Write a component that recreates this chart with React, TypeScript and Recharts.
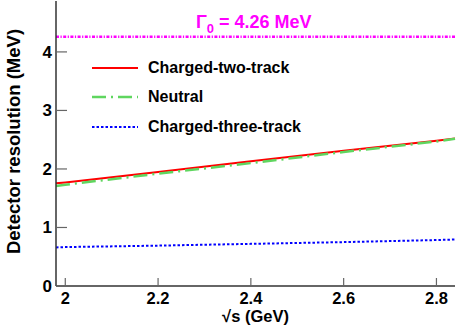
import { LineChart, Line, XAxis, YAxis, ReferenceLine, Legend, Label } from 'recharts';

// sqrt(s) in GeV
const energies = [1.98, 2.0, 2.2, 2.4, 2.6, 2.8, 2.84];
const chargedTwoTrack = [1.755, 1.77, 1.95, 2.13, 2.31, 2.48, 2.52];
const neutral = [1.71, 1.73, 1.92, 2.1, 2.29, 2.47, 2.515];
const chargedThreeTrack = [0.66, 0.665, 0.69, 0.72, 0.75, 0.785, 0.795];
const gamma0 = 4.26;

const xTicks = [2, 2.2, 2.4, 2.6, 2.8];
const yTicks = [0, 1, 2, 3, 4];

const series = [
  { key: 'two', name: 'Charged-two-track', values: chargedTwoTrack, color: '#ff0000', dash: undefined, width: 2 },
  { key: 'neu', name: 'Neutral', values: neutral, color: '#5fd65f', dash: '14 5 2 5', width: 2.5 },
  { key: 'three', name: 'Charged-three-track', values: chargedThreeTrack, color: '#0000ff', dash: '2.5 2', width: 2 },
];

const data = energies.map((e, i) => {
  const row: Record<string, number> = { e };
  series.forEach((s) => (row[s.key] = s.values[i]));
  return row;
});

const FONT = '"Liberation Sans", Arial, Helvetica, sans-serif';
const FRAME = '#333';
const TICK = '#666';

const BottomTick = (p: any) => (
  <g>
    <line x1={p.x} y1={p.y} x2={p.x} y2={p.y - 8} stroke={TICK} strokeWidth={1.2} />
    <text x={p.x} y={p.y + 17.5} textAnchor="middle" fontFamily={FONT} fontWeight="bold" fontSize={16.5} fill="#000">
      {p.payload.value}
    </text>
  </g>
);

const TopTick = (p: any) => (
  <line x1={p.x} y1={p.y} x2={p.x} y2={p.y + 8} stroke={TICK} strokeWidth={1.2} />
);

const LeftTick = (p: any) => (
  <g>
    <line x1={p.x} y1={p.y} x2={p.x + 11} y2={p.y} stroke={TICK} strokeWidth={1.2} />
    <text x={p.x - 4} y={p.y + 6} textAnchor="end" fontFamily={FONT} fontWeight="bold" fontSize={17} fill="#000">
      {p.payload.value}
    </text>
  </g>
);

const RightTick = (p: any) => (
  <line x1={p.x} y1={p.y} x2={p.x - 11} y2={p.y} stroke={TICK} strokeWidth={1.2} />
);

const renderLegend = () => (
  <div style={{ fontFamily: FONT, fontWeight: 'bold', fontSize: 16 }}>
    {series.map((s) => (
      <div key={s.key} style={{ display: 'flex', alignItems: 'center', height: 29.5 }}>
        <svg width={46} height={6} style={{ marginRight: 10 }}>
          <line x1={0} y1={3} x2={46} y2={3} stroke={s.color} strokeWidth={s.width} strokeDasharray={s.dash} />
        </svg>
        <span>{s.name}</span>
      </div>
    ))}
  </div>
);

const GammaLabel = (p: any) => {
  const vb = p.viewBox;
  return (
    <text x={vb.x + 140} y={vb.y - 9} fontFamily={FONT} fontWeight="bold" fontSize={18} fill="#ff00ff">
      Γ
      <tspan dy={5} fontSize={13}>0</tspan>
      <tspan dy={-5}> = 4.26 MeV</tspan>
    </text>
  );
};

export default function App() {
  return (
    <div style={{ position: 'absolute', left: 0, top: 0, background: '#fff' }}>
      <LineChart width={457} height={326} data={data} margin={{ top: 1, right: 2, left: 0, bottom: 0 }}>
        <XAxis
          xAxisId="b"
          type="number"
          dataKey="e"
          domain={[1.98, 2.84]}
          ticks={xTicks}
          interval={0}
          height={40}
          tickLine={false}
          tickSize={0}
          tickMargin={0}
          tick={BottomTick}
          axisLine={{ stroke: FRAME, strokeWidth: 1.5 }}
        >
          <Label
            content={(p: any) => (
              <text
                x={p.viewBox.x + p.viewBox.width / 2}
                y={p.viewBox.y + 36}
                textAnchor="middle"
                fontFamily={FONT}
                fontWeight="bold"
                fontSize={16.5}
                fill="#000"
              >
                √s (GeV)
              </text>
            )}
          />
        </XAxis>
        <XAxis
          xAxisId="t"
          orientation="top"
          type="number"
          dataKey="e"
          domain={[1.98, 2.84]}
          ticks={xTicks}
          interval={0}
          height={0}
          tickLine={false}
          tickSize={0}
          tickMargin={0}
          tick={TopTick}
          axisLine={{ stroke: FRAME, strokeWidth: 1.5 }}
        />
        <YAxis
          yAxisId="l"
          type="number"
          domain={[0, 4.87]}
          ticks={yTicks}
          interval={0}
          width={56}
          tickLine={false}
          tickSize={0}
          tickMargin={0}
          tick={LeftTick}
          axisLine={{ stroke: FRAME, strokeWidth: 1.5 }}
        >
          <Label
            content={(p: any) => {
              const cx = 13;
              const cy = p.viewBox.y + p.viewBox.height / 2 - 2;
              return (
                <text
                  x={cx}
                  y={cy}
                  transform={`rotate(-90 ${cx} ${cy})`}
                  textAnchor="middle"
                  dominantBaseline="central"
                  fontFamily={FONT}
                  fontWeight="bold"
                  fontSize={18.5}
                  fill="#000"
                >
                  Detector resolution (MeV)
                </text>
              );
            }}
          />
        </YAxis>
        <YAxis
          yAxisId="r"
          orientation="right"
          type="number"
          domain={[0, 4.87]}
          ticks={yTicks}
          interval={0}
          width={0}
          tickLine={false}
          tickSize={0}
          tickMargin={0}
          tick={RightTick}
          axisLine={{ stroke: FRAME, strokeWidth: 1.5 }}
        />
        <ReferenceLine
          xAxisId="b"
          yAxisId="l"
          y={gamma0}
          stroke="#ff00ff"
          strokeWidth={2.5}
          strokeDasharray="3 1.5 1.2 1.5"
          label={GammaLabel}
        />
        {series.map((s) => (
          <Line
            key={s.key}
            xAxisId="b"
            yAxisId="l"
            type="linear"
            dataKey={s.key}
            name={s.name}
            stroke={s.color}
            strokeWidth={s.width}
            strokeDasharray={s.dash}
            dot={false}
            activeDot={false}
            isAnimationActive={false}
          />
        ))}
        <Legend
          layout="horizontal"
          verticalAlign="middle"
          align="center"
          content={renderLegend}
          wrapperStyle={{ left: 92, top: 53, width: 260 }}
        />
      </LineChart>
    </div>
  );
}
